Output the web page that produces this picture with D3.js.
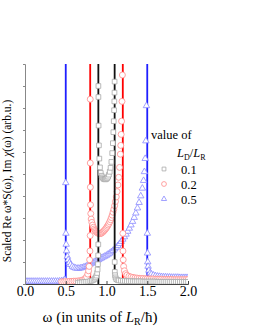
<!DOCTYPE html>
<html lang="en">

<head>
    <meta charset="UTF-8">
    <title>Document</title>
    <style>
        body { margin: 0; background: #fff; }
        text { font-family: "Liberation Serif", "Times New Roman", serif; }
    </style>
</head>

<body>
    <script src="https://cdn.jsdelivr.net/npm/d3@7"></script>
    <script>
        // L_D/L_R = 0.5 (triangles)
        var omega05 = [0, 0.025, 0.05, 0.075, 0.1, 0.125, 0.15, 0.175, 0.2, 0.225, 0.25, 0.275, 0.3, 0.325, 0.35, 0.375, 0.4, 0.425, 0.45, 0.475, 0.49,
            0.5, 0.502, 0.505, 0.51, 0.52, 0.53, 0.545, 0.56, 0.58,
            0.6, 0.62, 0.64, 0.66, 0.68, 0.7, 0.72, 0.74, 0.76, 0.78, 0.8, 0.82, 0.84, 0.86, 0.88, 0.9, 0.92, 0.94, 0.96, 0.98,
            1.0, 1.02, 1.04, 1.06, 1.08, 1.1, 1.12, 1.14, 1.16, 1.18, 1.2, 1.22, 1.24, 1.26, 1.28, 1.3, 1.32, 1.34, 1.36, 1.38, 1.4, 1.42, 1.44,
            1.455, 1.465, 1.475, 1.483, 1.49,
            1.501, 1.503, 1.506, 1.51, 1.52, 1.535, 1.55,
            1.575, 1.6, 1.625, 1.65, 1.675, 1.7, 1.725, 1.75, 1.775, 1.8, 1.825, 1.85, 1.875, 1.9, 1.925, 1.95, 1.975, 2.0];
        var value05 = [0.12, 0.12, 0.12, 0.12, 0.12, 0.12, 0.12, 0.12, 0.12, 0.12, 0.12, 0.12, 0.12, 0.12, 0.12, 0.12, 0.12, 0.13, 0.14, 0.16, 0.2,
            4.6, 2.3, 1.8, 1.5, 1.25, 1.1, 0.97, 0.88, 0.8,
            0.75, 0.72, 0.71, 0.71, 0.72, 0.74, 0.76, 0.79, 0.82, 0.86, 0.9, 0.94, 0.98, 1.02, 1.06, 1.1, 1.14, 1.18, 1.22, 1.26,
            1.3, 1.35, 1.4, 1.46, 1.52, 1.59, 1.66, 1.74, 1.83, 1.93, 2.03, 2.14, 2.26, 2.39, 2.53, 2.68, 2.84, 3.02, 3.22, 3.45, 3.7, 4.0, 4.35,
            4.7, 5.1, 5.7, 6.5, 8.1,
            2.3, 1.4, 1.0, 0.8, 0.62, 0.5, 0.44,
            0.4, 0.37, 0.35, 0.34, 0.33, 0.32, 0.32, 0.31, 0.31, 0.3, 0.3, 0.3, 0.3, 0.29, 0.29, 0.29, 0.29, 0.29];

        // L_D/L_R = 0.2 (circles)
        var omega02 = [0.45, 0.475, 0.5, 0.525, 0.55, 0.575, 0.6, 0.625, 0.65, 0.675, 0.7, 0.72, 0.74, 0.755, 0.77, 0.78, 0.787, 0.793, 0.797, 0.7995,
            0.8005, 0.801, 0.802, 0.804, 0.807, 0.812,
            0.82, 0.83, 0.84, 0.85, 0.86, 0.87, 0.88, 0.89, 0.9, 0.91, 0.92, 0.93, 0.94, 0.95, 0.96, 0.97, 0.98, 0.99,
            1.0, 1.01, 1.02, 1.03, 1.04, 1.05, 1.06, 1.07, 1.08, 1.09, 1.1, 1.11, 1.12, 1.13, 1.14, 1.15, 1.16, 1.17,
            1.175, 1.18, 1.185, 1.19, 1.195,
            1.2005, 1.202, 1.205, 1.21, 1.22, 1.235, 1.25,
            1.275, 1.3, 1.325, 1.35, 1.375, 1.4, 1.425, 1.45, 1.475, 1.5, 1.525, 1.55, 1.575, 1.6, 1.625, 1.65, 1.675, 1.7, 1.725, 1.75,
            1.775, 1.8, 1.825, 1.85, 1.875, 1.9, 1.925, 1.95, 1.975, 2.0];
        var value02 = [0.1, 0.1, 0.11, 0.11, 0.12, 0.12, 0.13, 0.13, 0.14, 0.15, 0.17, 0.2, 0.25, 0.32, 0.45, 0.6, 0.8, 1.1, 1.5, 2.2,
            8.4, 5.5, 4.4, 3.6, 3.2, 2.95,
            2.8, 2.68, 2.58, 2.5, 2.44, 2.39, 2.35, 2.32, 2.3, 2.29, 2.29, 2.3, 2.32, 2.35, 2.38, 2.42, 2.46, 2.51,
            2.56, 2.62, 2.68, 2.75, 2.83, 2.92, 3.02, 3.13, 3.26, 3.4, 3.56, 3.75, 3.96, 4.2, 4.5, 4.85, 5.3, 5.9,
            6.3, 6.8, 7.4, 8.3, 9.5,
            2.3, 1.5, 1.1, 0.8, 0.6, 0.47, 0.4,
            0.35, 0.32, 0.3, 0.28, 0.27, 0.26, 0.25, 0.25, 0.24, 0.24, 0.23, 0.23, 0.23, 0.22, 0.22, 0.22, 0.22, 0.21, 0.21, 0.21,
            0.21, 0.21, 0.2, 0.2, 0.2, 0.2, 0.2, 0.2, 0.2, 0.2];

        // L_D/L_R = 0.1 (squares)
        var omega01 = [0.65, 0.675, 0.7, 0.725, 0.75, 0.775, 0.8, 0.82, 0.84, 0.855, 0.867, 0.877, 0.885, 0.891, 0.895, 0.898, 0.8995,
            0.9005, 0.901, 0.903, 0.907, 0.912, 0.92, 0.93, 0.94, 0.95, 0.96, 0.97, 0.98, 0.99,
            1.0, 1.01, 1.02, 1.03, 1.04, 1.05, 1.06, 1.07, 1.078, 1.084, 1.089, 1.093, 1.096, 1.098, 1.0995,
            1.1005, 1.102, 1.105, 1.11, 1.12, 1.135, 1.15,
            1.175, 1.2, 1.225, 1.25, 1.275, 1.3, 1.325, 1.35, 1.375, 1.4, 1.425, 1.45, 1.475, 1.5, 1.525, 1.55, 1.575,
            1.6, 1.625, 1.65, 1.675, 1.7, 1.725, 1.75, 1.775, 1.8, 1.825, 1.85, 1.875, 1.9, 1.925, 1.95, 1.975, 2.0];
        var value01 = [0.06, 0.07, 0.08, 0.09, 0.1, 0.11, 0.13, 0.15, 0.19, 0.24, 0.3, 0.38, 0.5, 0.66, 0.9, 1.3, 1.8,
            9.0, 8.5, 7.2, 6.3, 5.7, 5.3, 5.05, 4.92, 4.85, 4.8, 4.77, 4.76, 4.76,
            4.78, 4.82, 4.88, 4.97, 5.1, 5.28, 5.55, 5.95, 6.4, 6.9, 7.4, 7.9, 8.3, 8.7, 9.2,
            1.0, 0.55, 0.4, 0.3, 0.22, 0.18, 0.16,
            0.15, 0.14, 0.14, 0.13, 0.13, 0.13, 0.12, 0.12, 0.12, 0.12, 0.12, 0.11, 0.11, 0.11, 0.11, 0.11, 0.11,
            0.11, 0.1, 0.1, 0.1, 0.1, 0.1, 0.1, 0.1, 0.1, 0.1, 0.1, 0.1, 0.1, 0.1, 0.1, 0.1, 0.1];

        // Im chi lines (large inside the band, off the top of the plot)
        var lineOmega05 = [0, 0.5, 0.5, 1.5, 1.5, 2.0];
        var lineValue05 = [0.1, 0.1, 12, 12, 0.2, 0.2];
        var lineOmega02 = [0.8, 0.8, 1.2, 1.2];
        var lineValue02 = [0, 12, 12, 0.25];
        var lineOmega01 = [0.9, 0.9, 1.1, 1.1];
        var lineValue01 = [0, 12, 12, 0.5];

        var xTicks = [0, 0.5, 1.0, 1.5, 2.0];
        var legendLabels = ["0.1", "0.2", "0.5"];

        var W = 255, H = 330;
        var margin = { left: 25, top: 64, right: 67, bottom: 46 };
        var pw = W - margin.left - margin.right; // 163
        var ph = H - margin.top - margin.bottom; // 220

        var x = d3.scaleLinear().domain([0, 2]).range([margin.left, margin.left + pw]);
        var y = d3.scaleLinear().domain([0, 10]).range([margin.top + ph, margin.top]);

        var svg = d3.select('body').append('svg').attr('width', W).attr('height', H);

        svg.append("clipPath").attr("id", "plotclip").append("rect")
            .attr("x", margin.left).attr("y", margin.top).attr("width", pw).attr("height", ph);

        // series in drawing order: 0.5 first, 0.1 last
        var series = [
            { w: omega05, v: value05, lw: lineOmega05, lv: lineValue05, line: "#1f1fff", mark: "#8a8aff", sym: d3.symbolTriangle, size: 18 },
            { w: omega02, v: value02, lw: lineOmega02, lv: lineValue02, line: "#ff0000", mark: "#ff8a8a", sym: d3.symbolCircle, size: 28 },
            { w: omega01, v: value01, lw: lineOmega01, lv: lineValue01, line: "#111111", mark: "#a8a8a8", sym: d3.symbolSquare, size: 22 }
        ];

        var plot = svg.append("g").attr("clip-path", "url(#plotclip)");
        var line = d3.line().x(function (d) { return x(d[0]); }).y(function (d) { return y(d[1]); });

        series.forEach(function (s) {
            var lineData = s.lw.map(function (w, i) { return [w, s.lv[i]]; });
            plot.append("path").datum(lineData).attr("d", line)
                .attr("fill", "none").attr("stroke", s.line).attr("stroke-width", 1.8);

            var pts = s.w.map(function (w, i) { return [w, s.v[i]]; });
            plot.selectAll(null).data(pts).enter().append("path")
                .attr("d", d3.symbol().type(s.sym).size(s.size))
                .attr("transform", function (d) { return "translate(" + x(d[0]) + "," + y(d[1]) + ")"; })
                .attr("fill", "#fff").attr("stroke", s.mark).attr("stroke-width", 0.8);
        });

        // axes
        var xAxis = svg.append("g").attr("transform", "translate(0," + (margin.top + ph) + ")")
            .call(d3.axisBottom(x).tickValues(xTicks).tickFormat(d3.format(".1f")).tickSize(-3).tickPadding(2));
        xAxis.select(".domain").attr("stroke", "#444");
        xAxis.selectAll(".tick line").attr("stroke", "#444");
        xAxis.selectAll("text").attr("font-size", 14).attr("fill", "#000");

        var yAxis = svg.append("g").attr("transform", "translate(" + margin.left + ",0)")
            .call(d3.axisLeft(y).ticks(10).tickFormat("").tickSize(2));
        yAxis.select(".domain").attr("stroke", "#888");
        yAxis.selectAll(".tick line").attr("stroke", "#888");

        // axis titles
        var xt = svg.append("text").attr("x", 100).attr("y", 322).attr("text-anchor", "middle")
            .attr("font-size", 15).attr("fill", "#000");
        xt.append("tspan").text("ω (in units of ");
        xt.append("tspan").attr("font-style", "italic").text("L");
        xt.append("tspan").attr("font-size", 10).attr("dy", 3).text("R");
        xt.append("tspan").attr("dy", -3).text("/ħ)");

        var yt = svg.append("text").attr("transform", "translate(11," + (margin.top + ph / 2 + 7) + ") rotate(-90)")
            .attr("text-anchor", "middle").attr("font-size", 11.5).attr("fill", "#000");
        yt.append("tspan").text("Scaled Re ω*S(ω), Im ");
        yt.append("tspan").attr("font-style", "italic").text("χ");
        yt.append("tspan").text("(ω) (arb.u.)");

        // legend
        var lg = svg.append("g");
        lg.append("text").attr("x", 151).attr("y", 139).attr("font-size", 12.5).text("value of");
        var lt = lg.append("text").attr("x", 177).attr("y", 157).attr("font-size", 12.5);
        lt.append("tspan").attr("font-style", "italic").text("L");
        lt.append("tspan").attr("font-size", 8).attr("dy", 3).text("D");
        lt.append("tspan").attr("dy", -3).text("/");
        lt.append("tspan").attr("font-style", "italic").text("L");
        lt.append("tspan").attr("font-size", 8).attr("dy", 3).text("R");

        var legendSeries = [series[2], series[1], series[0]];
        legendLabels.forEach(function (lab, i) {
            var cy = 169 + i * 15;
            var s = legendSeries[i];
            lg.append("path").attr("d", d3.symbol().type(s.sym).size(s.size * 0.65))
                .attr("transform", "translate(164," + cy + ")")
                .attr("fill", "#fff").attr("stroke", s.mark).attr("stroke-width", 0.8);
            lg.append("text").attr("x", 181).attr("y", cy + 4.5).attr("font-size", 12.5).text(lab);
        });
    </script>
</body>

</html>
